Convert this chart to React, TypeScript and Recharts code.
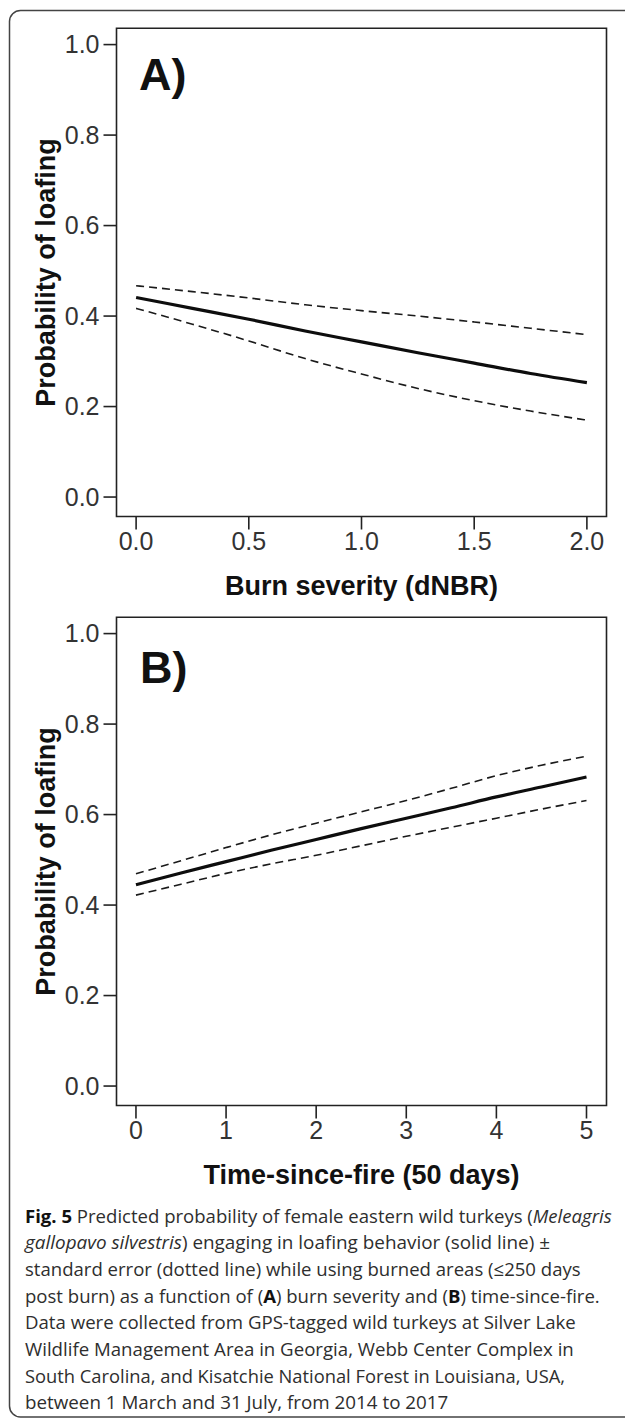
import React from 'react';
import { LineChart, Line, XAxis, YAxis, ReferenceArea } from 'recharts';

// panel A: burn severity (dNBR)
const severityX = [0, 0.25, 0.5, 0.75, 1.0, 1.25, 1.5, 1.75, 2.0];
const severityFit = [0.441, 0.417, 0.393, 0.367, 0.343, 0.319, 0.296, 0.273, 0.253];
const severityUpper = [0.467, 0.454, 0.44, 0.425, 0.412, 0.4, 0.387, 0.373, 0.359];
const severityLower = [0.417, 0.382, 0.345, 0.306, 0.272, 0.24, 0.213, 0.19, 0.17];
const severityTicks = [0, 0.5, 1.0, 1.5, 2.0];

// panel B: time-since-fire (50 days)
const fireX = [0, 0.5, 1, 1.5, 2, 2.5, 3, 3.5, 4, 4.5, 5];
const fireFit = [0.445, 0.471, 0.496, 0.521, 0.545, 0.569, 0.592, 0.615, 0.639, 0.661, 0.683];
const fireUpper = [0.469, 0.498, 0.527, 0.555, 0.581, 0.606, 0.631, 0.658, 0.686, 0.709, 0.729];
const fireLower = [0.422, 0.446, 0.47, 0.491, 0.51, 0.531, 0.552, 0.572, 0.592, 0.612, 0.631];
const fireTicks = [0, 1, 2, 3, 4, 5];

const probTicks = [0, 0.2, 0.4, 0.6, 0.8, 1.0];

// caption, segment kinds: n normal, b bold, i italic
const captionLines: [string, string][][] = [
  [['b', 'Fig. 5'], ['n', ' Predicted probability of female eastern wild turkeys ('], ['i', 'Meleagris']],
  [['i', 'gallopavo silvestris'], ['n', ') engaging in loafing behavior (solid line) ±']],
  [['n', 'standard error (dotted line) while using burned areas (≤250 days']],
  [['n', 'post burn) as a function of ('], ['b', 'A'], ['n', ') burn severity and ('], ['b', 'B'], ['n', ') time-since-fire.']],
  [['n', 'Data were collected from GPS-tagged wild turkeys at Silver Lake']],
  [['n', 'Wildlife Management Area in Georgia, Webb Center Complex in']],
  [['n', 'South Carolina, and Kisatchie National Forest in Louisiana, USA,']],
  [['n', 'between 1 March and 31 July, from 2014 to 2017']],
];
const captionWidths = [586.7, 525, 555.6, 574.7, 550.8, 548.8, 540, 423.3];

const toRows = (xs: number[], fit: number[], upper: number[], lower: number[]) =>
  xs.map((x, i) => ({ x, fit: fit[i], upper: upper[i], lower: lower[i] }));

const severityData = toRows(severityX, severityFit, severityUpper, severityLower);
const fireData = toRows(fireX, fireFit, fireUpper, fireLower);

const AXIS_FONT = '"Liberation Sans", Arial, sans-serif';
const INK = '#222';
const Y_DOMAIN: [number, number] = [-0.043, 1.036];

// chart-local geometry
const CH_W = 625;
const CH_H = 612;
const PLOT_TOP = 28.3;
const PLOT_LEFT = 116.5;
const PLOT_RIGHT = 606.5;
const PLOT_BOTTOM = 516.5;

const YTitle = () => {
  const cy = (PLOT_TOP + PLOT_BOTTOM) / 2;
  return (
    <text
      x={55.5}
      y={cy}
      transform={`rotate(-90, 55.5, ${cy})`}
      textAnchor="middle"
      fontFamily={AXIS_FONT}
      fontWeight="bold"
      fontSize={27}
      fill="#111"
    >
      Probability of loafing
    </text>
  );
};

const XTitle = ({ text }: { text: string }) => (
  <text
    x={(PLOT_LEFT + PLOT_RIGHT) / 2}
    y={595}
    textAnchor="middle"
    fontFamily={AXIS_FONT}
    fontWeight="bold"
    fontSize={27}
    fill="#111"
  >
    {text}
  </text>
);

interface PanelProps {
  data: { x: number; fit: number; upper: number; lower: number }[];
  xDomain: [number, number];
  xTicks: number[];
  xFmt: (v: number) => string;
  xTitle: string;
  top: number;
}

function Panel({ data, xDomain, xTicks, xFmt, xTitle, top }: PanelProps) {
  return (
    <div style={{ position: 'absolute', left: 0, top, width: CH_W, height: CH_H }}>
      <LineChart
        width={CH_W}
        height={CH_H}
        data={data}
        margin={{ top: PLOT_TOP, right: CH_W - PLOT_RIGHT, bottom: 0, left: 0 }}
      >
        <XAxis
          dataKey="x"
          type="number"
          domain={xDomain}
          ticks={xTicks}
          allowDataOverflow
          interval={0}
          tickFormatter={xFmt}
          axisLine={false}
          tickSize={13}
          tickMargin={3}
          height={CH_H - PLOT_BOTTOM}
          tick={{ fontSize: 25, fill: '#333', fontFamily: AXIS_FONT }}
          tickLine={{ stroke: INK, strokeWidth: 1.6 }}
          label={<XTitle text={xTitle} />}
        />
        <YAxis
          type="number"
          domain={Y_DOMAIN}
          ticks={probTicks}
          allowDataOverflow
          interval={0}
          width={PLOT_LEFT}
          axisLine={false}
          tickSize={13}
          tickMargin={4}
          tickFormatter={(v: number) => v.toFixed(1)}
          tick={{ fontSize: 25, fill: '#333', fontFamily: AXIS_FONT }}
          tickLine={{ stroke: INK, strokeWidth: 1.6 }}
          label={<YTitle />}
        />
        {/* plot frame */}
        <ReferenceArea
          x1={xDomain[0]}
          x2={xDomain[1]}
          y1={Y_DOMAIN[0]}
          y2={Y_DOMAIN[1]}
          fill="none"
          fillOpacity={0}
          stroke={INK}
          strokeWidth={1.6}
          ifOverflow="visible"
        />
        <Line type="monotone" dataKey="upper" stroke="#1a1a1a" strokeWidth={1.6} strokeDasharray="8 5" dot={false} activeDot={false} isAnimationActive={false} />
        <Line type="monotone" dataKey="lower" stroke="#1a1a1a" strokeWidth={1.6} strokeDasharray="8 5" dot={false} activeDot={false} isAnimationActive={false} />
        <Line type="monotone" dataKey="fit" stroke="#0d0d0d" strokeWidth={3.2} dot={false} activeDot={false} isAnimationActive={false} />
      </LineChart>
    </div>
  );
}

export default function App() {
  const capFont = '"Open Sans", "Noto Sans", sans-serif';
  return (
    <div style={{ position: 'absolute', left: 0, top: 0, width: 625, height: 1420, background: '#fff', overflow: 'hidden' }}>
      <svg width={625} height={1420} style={{ position: 'absolute', left: 0, top: 0 }}>
        <rect x={9.5} y={10.5} width={650} height={1406.5} rx={11} fill="none" stroke="#444" strokeWidth={1.5} />
        <text x={139} y={90} fontFamily={AXIS_FONT} fontWeight="bold" fontSize={45} fill="#111">A)</text>
        <text x={140} y={683} fontFamily={AXIS_FONT} fontWeight="bold" fontSize={45} fill="#111">B)</text>
        {captionLines.map((segs, i) => (
          <text
            key={i}
            x={25}
            y={1222.5 + i * 26.7}
            fontFamily={capFont}
            fontSize={18.5}
            fill="#2e2e2e"
            textLength={captionWidths[i]}
            lengthAdjust="spacingAndGlyphs"
            style={{ whiteSpace: 'pre' }}
          >
            {segs.map(([kind, t], j) => (
              <tspan
                key={j}
                fontWeight={kind === 'b' ? 'bold' : 'normal'}
                fontStyle={kind === 'i' ? 'italic' : 'normal'}
                fill={kind === 'b' ? '#111' : undefined}
              >
                {t}
              </tspan>
            ))}
          </text>
        ))}
      </svg>
      <Panel
        data={severityData}
        xDomain={[-0.087, 2.087]}
        xTicks={severityTicks}
        xFmt={(v) => v.toFixed(1)}
        xTitle="Burn severity (dNBR)"
        top={0}
      />
      <Panel
        data={fireData}
        xDomain={[-0.216, 5.222]}
        xTicks={fireTicks}
        xFmt={(v) => String(v)}
        xTitle="Time-since-fire (50 days)"
        top={589}
      />
    </div>
  );
}
